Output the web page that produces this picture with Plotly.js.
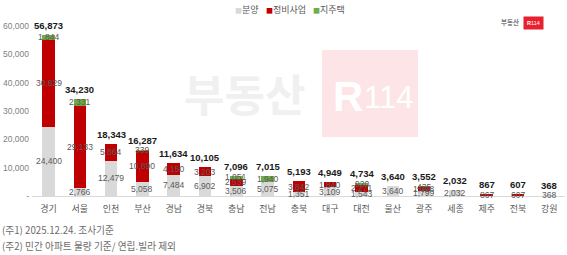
<!DOCTYPE html>
<html><head><meta charset="utf-8">
<script src="https://cdn.plot.ly/plotly-3.0.1.min.js"></script>
<style>body{margin:0;background:#fff}#chart{width:567px;height:255px}</style>
</head><body><div id="chart"></div>
<script>
const categories = ['경기','서울','인천','부산','경남','경북','충남','전남','충북','대구','대전','울산','광주','세종','제주','전북','강원'];
const bunyang = [24400,2766,12479,5058,7484,6902,3506,5075,1351,3109,1543,3640,1799,2032,0,0,368];
const jeongbi = [30629,29133,5864,10890,4150,3203,2539,0,3842,1840,2271,0,1318,0,867,607,0];
const jijutaek = [1844,2331,0,339,0,0,1051,1940,0,0,920,0,435,0,0,0,0];
const seriesNames = ['분양','정비사업','지주택'];
const colors = ['#D9D9D9','#C00000','#70AD47'];
const yTickVals = [0,10000,20000,30000,40000,50000,60000];
const yTickText = ['-','10,000','20,000','30,000','40,000','50,000','60,000'];
const notes = ['(주1) 2025.12.24. 조사기준','(주2) 민간 아파트 물량 기준/ 연립.빌라 제외'];

const fmt = v => v.toLocaleString('en-US');
const seriesVals = [bunyang, jeongbi, jijutaek];
const traces = seriesVals.map((vals,i)=>({
  type:'bar', x:categories, y:vals, name:seriesNames[i],
  marker:{color:colors[i]}, hoverinfo:'skip', showlegend:false
}));

const ann = [];
categories.forEach((c,ci)=>{
  let base = 0;
  seriesVals.forEach((vals,si)=>{
    const v = vals[ci];
    if(v>0){
      ann.push({x:c, y:base+v/2, xref:'x', yref:'y', text:fmt(v), showarrow:false,
        font:{family:'Arial, Liberation Sans, sans-serif', size:8.5, color:'#595959'}});
    }
    base += v;
  });
  ann.push({x:c, y:base, xref:'x', yref:'y', text:'<b>'+fmt(base)+'</b>', showarrow:false,
    yanchor:'bottom', yshift:2,
    font:{family:'Arial, Liberation Sans, sans-serif', size:9.5, color:'#1a1a1a'}});
});

const L=32, R=2, T=26, B=59, W=567, H=255;
const pw = W-L-R, ph = H-T-B;
const px = x => (x-L)/pw, py = y => (H-B-y)/ph;

const legX = [233, 264, 311];
seriesNames.forEach((n,i)=>{
  ann.push({x:px(legX[i]), y:py(10), xref:'paper', yref:'paper',
    text:'<span style="color:'+colors[i]+';font-size:7px">■</span>'+n,
    showarrow:false, xanchor:'left', yanchor:'middle',
    font:{family:'Noto Sans CJK KR, sans-serif', size:9, color:'#595959'}});
});
notes.forEach((t,i)=>{
  ann.push({x:px(0), y:py(230+i*16), xref:'paper', yref:'paper', text:t, showarrow:false, xanchor:'left', yanchor:'middle',
    font:{family:'Noto Sans CJK KR, sans-serif', size:9.7, color:'#6b6b6b'}});
});
// watermark
ann.push({x:px(244), y:py(93), xref:'paper', yref:'paper', text:'<b>부동산</b>', showarrow:false,
  font:{family:'Noto Sans CJK KR, sans-serif', size:44, color:'#f0f0f0'}});
ann.push({x:px(331), y:py(96), xref:'paper', yref:'paper', xanchor:'left', text:'<b>R</b>', showarrow:false,
  font:{family:'Arial, Liberation Sans, sans-serif', size:42, color:'#ffffff'}});
ann.push({x:px(362), y:py(97), xref:'paper', yref:'paper', xanchor:'left', text:'114', showarrow:false,
  font:{family:'Arial, Liberation Sans, sans-serif', size:31, color:'#ffffff'}});
// small logo
ann.push({x:px(521), y:py(15), xref:'paper', yref:'paper', text:'<b>부동산</b>', showarrow:false, xanchor:'right',
  font:{family:'Noto Sans CJK KR, sans-serif', size:6.5, color:'#777'}});
ann.push({x:px(523), y:py(15.5), xref:'paper', yref:'paper', xanchor:'left', text:'<b>R</b>114', showarrow:false,
  bgcolor:'#e8212e', borderpad:3,
  font:{family:'Arial, Liberation Sans, sans-serif', size:5.5, color:'#ffffff'}});

const shapes = [
  {type:'rect', xref:'paper', yref:'paper', x0:px(322), x1:px(418), y0:py(137), y1:py(50),
   fillcolor:'#fde4e6', line:{width:0}, layer:'below'}
];

const layout = {
  width:W, height:H, margin:{l:L,r:R,t:T,b:B},
  paper_bgcolor:'#ffffff', plot_bgcolor:'rgba(0,0,0,0)',
  barmode:'stack', bargap:0.6, showlegend:false,
  xaxis:{type:'category', showline:true, linecolor:'#d9d9d9', linewidth:1, ticks:'', showgrid:false,
    ticklabelstandoff:4,
    tickfont:{family:'Noto Sans CJK KR, sans-serif', size:9, color:'#595959'}},
  yaxis:{range:[0,60000], tickvals:yTickVals, ticktext:yTickText, showgrid:false, zeroline:false, showline:false,
    tickfont:{family:'Arial, Liberation Sans, sans-serif', size:8.5, color:'#7f7f7f'}, ticklabelstandoff:2},
  annotations:ann, shapes:shapes
};
Plotly.newPlot('chart', traces, layout, {staticPlot:true, displayModeBar:false});
</script></body></html>
